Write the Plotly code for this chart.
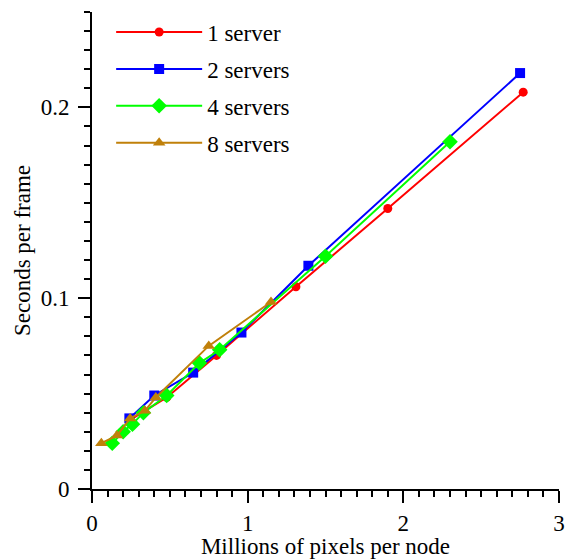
import plotly.graph_objects as go

# 1 server
x1 = [0.24, 0.48, 0.80, 1.31, 1.90, 2.77]
y1 = [0.036, 0.048, 0.070, 0.106, 0.147, 0.208]
# 2 servers
x2 = [0.24, 0.40, 0.65, 0.96, 1.39, 2.75]
y2 = [0.037, 0.049, 0.061, 0.082, 0.117, 0.218]
# 4 servers
x4 = [0.13, 0.20, 0.26, 0.33, 0.48, 0.69, 0.82, 1.50, 2.30]
y4 = [0.024, 0.030, 0.034, 0.040, 0.049, 0.066, 0.073, 0.122, 0.182]
# 8 servers
x8 = [0.06, 0.16, 0.245, 0.34, 0.41, 0.75, 1.15]
y8 = [0.024, 0.028, 0.037, 0.041, 0.048, 0.075, 0.098]

names = ["1 server", "2 servers", "4 servers", "8 servers"]
colors = ["#ff0000", "#0000ff", "#00ff00", "#c0800a"]
symbols = ["circle", "square", "diamond", "triangle-up"]
sizes = [9, 10, 12, 11]

FONT = "Liberation Serif"

fig = go.Figure()
for i, (xs, ys) in enumerate([(x1, y1), (x2, y2), (x4, y4), (x8, y8)]):
    fig.add_trace(go.Scatter(
        x=xs, y=ys, mode="lines+markers", name=names[i], legendgroup=names[i],
        line=dict(color=colors[i], width=2),
        marker=dict(color=colors[i], symbol=symbols[i], size=sizes[i]),
    ))

fig.update_layout(
    width=568, height=559,
    margin=dict(l=92, r=9, t=12, b=70),
    plot_bgcolor="white", paper_bgcolor="white",
    font=dict(family=FONT, size=23, color="black"),
    showlegend=True,
    legend=dict(x=0.041, y=1.003, xanchor="left", yanchor="top",
                bgcolor="rgba(0,0,0,0)", font=dict(size=23, family=FONT),
                tracegroupgap=4, itemwidth=86),
    xaxis=dict(range=[0, 3], dtick=1, showgrid=False, zeroline=False,
               showline=True, linecolor="black", linewidth=2, automargin=False,
               ticks="outside", ticklen=12, tickwidth=2, tickcolor="black",
               minor=dict(ticks="outside", dtick=0.1, ticklen=6, tickwidth=2, tickcolor="black"),
               title=dict(text="Millions of pixels per node", font=dict(size=23), standoff=4)),
    yaxis=dict(range=[0, 0.25], dtick=0.1, showgrid=False, zeroline=False,
               showline=True, linecolor="black", linewidth=2, automargin=False,
               ticks="outside", ticklen=12, tickwidth=2, tickcolor="black",
               ticklabelstandoff=4,
               minor=dict(ticks="outside", dtick=0.01, ticklen=6, tickwidth=2, tickcolor="black"),
               title=dict(text="Seconds per frame", font=dict(size=23), standoff=4)),
)

fig.write_html("out.html", config={"displayModeBar": False},
               post_script="document.body.style.margin='0';document.body.style.overflow='hidden';")
